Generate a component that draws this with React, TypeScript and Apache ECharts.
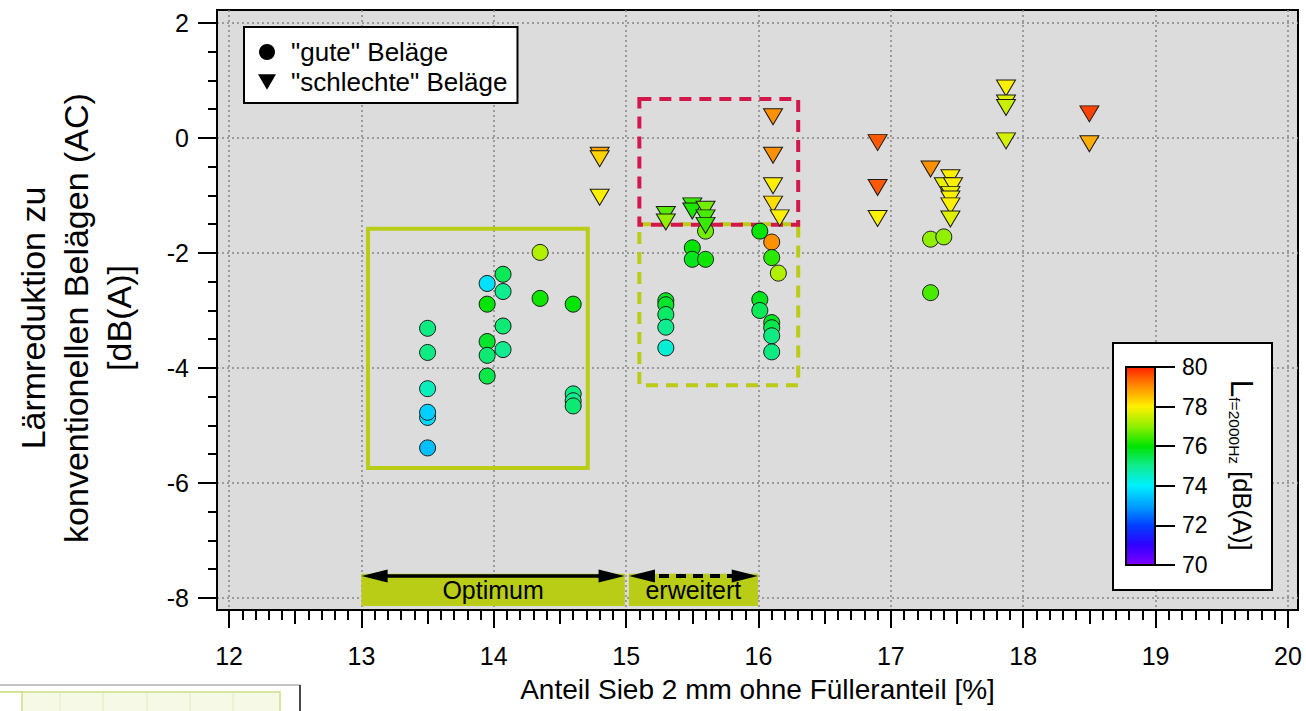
import React, { useEffect, useRef } from 'react';
import * as echarts from 'echarts';

// ---- data ----
const GOOD_X = [13.5, 13.5, 13.5, 13.5, 13.5, 13.5, 13.95, 13.95, 13.95, 13.95, 13.95, 14.07, 14.07, 14.07, 14.07, 14.35, 14.35, 14.6, 14.6, 14.6, 14.6, 15.3, 15.3, 15.3, 15.3, 15.3, 15.5, 15.5, 15.6, 15.6, 16.01, 16.01, 16.01, 16.1, 16.1, 16.15, 16.1, 16.1, 16.1, 16.1, 17.3, 17.4, 17.3];
const GOOD_Y = [-3.31, -3.73, -4.36, -4.86, -4.77, -5.39, -2.53, -2.89, -3.54, -3.78, -4.14, -2.37, -2.67, -3.27, -3.68, -1.99, -2.79, -2.89, -4.45, -4.57, -4.66, -2.83, -2.9, -3.07, -3.29, -3.65, -1.91, -2.11, -2.11, -1.62, -1.62, -2.81, -3.0, -1.81, -2.08, -2.35, -3.21, -3.3, -3.44, -3.72, -1.76, -1.72, -2.69];
const GOOD_L = [75.1, 75.1, 74.6, 73.7, 73.6, 73.4, 73.8, 76.0, 75.7, 75.2, 75.5, 75.4, 75.0, 75.2, 75.0, 77.3, 76.1, 76.0, 75.1, 75.0, 75.2, 75.8, 75.7, 75.3, 75.0, 74.4, 76.0, 75.8, 76.1, 76.8, 76.0, 75.8, 75.4, 79.0, 76.3, 77.3, 75.8, 75.5, 75.1, 75.1, 77.0, 77.0, 76.5];

const BAD_X = [14.8, 14.8, 14.8, 15.3, 15.3, 15.5, 15.5, 15.6, 15.6, 15.6, 16.11, 16.11, 16.11, 16.11, 16.16, 16.9, 16.9, 16.9, 17.3, 17.45, 17.4, 17.47, 17.45, 17.45, 17.45, 17.45, 17.87, 17.87, 17.87, 17.87, 18.5, 18.5];
const BAD_Y = [-0.3, -0.36, -1.03, -1.33, -1.46, -1.18, -1.27, -1.24, -1.39, -1.52, 0.37, -0.3, -0.83, -1.15, -1.39, -0.08, -0.86, -1.4, -0.54, -0.69, -0.83, -0.83, -0.98, -1.06, -1.18, -1.41, 0.87, 0.61, 0.53, -0.05, 0.42, -0.1];
const BAD_L = [78.8, 78.3, 78.0, 76.6, 77.0, 76.4, 76.2, 76.8, 76.5, 76.4, 79.0, 79.0, 78.0, 78.2, 78.0, 79.5, 79.5, 78.0, 79.0, 78.0, 77.8, 78.0, 77.8, 78.0, 78.0, 77.7, 78.0, 77.7, 77.5, 77.6, 79.7, 78.7];

const SERIES_NAMES = ['"gute" Beläge', '"schlechte" Beläge'];
const X_TICKS = [12, 13, 14, 15, 16, 17, 18, 19, 20];
const Y_TICKS = [-8, -6, -4, -2, 0, 2];
const CB_MIN = 70;
const CB_MAX = 80;
const CB_COLORS = ['#8000ff', '#3000ff', '#0040ff', '#00a0ff', '#00f0ff', '#10ec90', '#00e400', '#90f000', '#fff000', '#ff9000', '#ff2000'];

const X_TITLE = 'Anteil Sieb 2 mm ohne Fülleranteil [%]';
const Y_TITLE = 'Lärmreduktion zu\nkonventionellen Belägen (AC)\n[dB(A)]';

// rectangles: [x1, y1, x2, y2]
const BOX_OPTIMUM = [13.05, -1.58, 14.71, -5.74];
const BOX_EXT_GOOD = [15.1, -1.5, 16.3, -4.3];
const BOX_EXT_BAD = [15.1, 0.68, 16.3, -1.51];
const BAND_OPT = [13.0, -7.58, 14.99, -8.14];
const BAND_EXT = [15.02, -7.58, 15.996, -8.14];
const ARROW_Y = -7.617;

const X_MIN = 11.909;
const X_MAX = 20.076;
const Y_MIN = -8.209;
const Y_MAX = 2.226;

const FONT = 'Liberation Sans, Arial, Helvetica, sans-serif';
const GREEN = '#b9cc16';
const RED = '#d4174a';
const ARROW_HEAD = 'path://M5,0L10,20L0,20Z';

const r1 = (v: number) => Math.round(v * 10) / 10;
const X_HALF: number[] = [];
const X_TENTH: number[] = [];
for (let i = 0; i < X_TICKS.length - 1; i++) {
  for (let k = 1; k < 10; k++) {
    const v = r1(X_TICKS[i] + k / 10);
    if (k === 5) X_HALF.push(v);
    else X_TENTH.push(v);
  }
}
const Y_MINOR: number[] = [];
for (let i = 0; i < Y_TICKS.length - 1; i++) {
  for (let k = 1; k < 4; k++) Y_MINOR.push(Y_TICKS[i] + k * 0.5);
}

export default function App() {
  const ref = useRef<HTMLDivElement>(null);

  useEffect(() => {
    document.body.style.margin = '0';
    const chart = echarts.init(ref.current!, undefined, { renderer: 'svg' });

    const tickLine = { color: '#000', width: 2 };
    const xBase = {
      type: 'value', gridIndex: 0, min: X_MIN, max: X_MAX, position: 'bottom',
      axisLine: { show: false, onZero: false }, splitLine: { show: false }, axisLabel: { show: false },
      minorTick: { show: false },
    };
    const yBase = {
      type: 'value', gridIndex: 0, min: Y_MIN, max: Y_MAX, position: 'left',
      axisLine: { show: false, onZero: false }, splitLine: { show: false }, axisLabel: { show: false },
      minorTick: { show: false },
    };
    const gridLine = { show: true, lineStyle: { color: '#858585', width: 1.5, type: [2, 3] } };

    const gradStops = CB_COLORS.map((c, i) => ({ offset: 1 - i / (CB_COLORS.length - 1), color: c })).reverse();

    const rectArea = (b: number[], color: string, dashed: boolean) => [
      {
        coord: [b[0], b[1]],
        itemStyle: { color: 'rgba(0,0,0,0)', borderColor: color, borderWidth: 4, borderType: dashed ? [12, 8] : 'solid' },
        label: { show: false },
      },
      { coord: [b[2], b[3]] },
    ];
    const bandArea = (b: number[], text: string) => [
      {
        coord: [b[0], b[1]],
        itemStyle: { color: GREEN, borderWidth: 0 },
        label: { show: true, position: 'inside', formatter: text, fontSize: 25, color: '#000', fontFamily: FONT },
      },
      { coord: [b[2], b[3]] },
    ];

    const option: any = {
      animation: false,
      backgroundColor: '#fff',
      textStyle: { fontFamily: FONT },
      grid: [
        {
          left: 217, right: 8, top: 10, bottom: 101, show: true,
          backgroundColor: '#dcdcdc', borderColor: '#000', borderWidth: 2,
        },
        {
          left: 1126, top: 367, width: 29, height: 198, show: true, z: 5,
          backgroundColor: new echarts.graphic.LinearGradient(0, 0, 0, 1, gradStops),
          borderColor: '#000', borderWidth: 2,
        },
      ],
      xAxis: [
        {
          ...xBase,
          axisLine: { show: true, onZero: false, lineStyle: tickLine },
          axisTick: { show: true, customValues: X_TICKS, length: 18, lineStyle: tickLine },
          axisLabel: { show: true, customValues: X_TICKS, fontSize: 25, color: '#000', margin: 33, fontFamily: FONT },
          splitLine: gridLine,
          name: X_TITLE, nameLocation: 'middle', nameGap: 65,
          nameTextStyle: { fontSize: 28, color: '#000', fontFamily: FONT },
        },
        { ...xBase, axisTick: { show: true, customValues: X_HALF, length: 14, lineStyle: tickLine } },
        { ...xBase, axisTick: { show: true, customValues: X_TENTH, length: 10, lineStyle: tickLine } },
        { type: 'value', gridIndex: 1, show: false, min: 0, max: 1 },
      ],
      yAxis: [
        {
          ...yBase,
          axisLine: { show: true, onZero: false, lineStyle: tickLine },
          axisTick: { show: true, customValues: Y_TICKS, length: 19, lineStyle: tickLine },
          axisLabel: { show: true, customValues: Y_TICKS, fontSize: 25, color: '#000', margin: 28, fontFamily: FONT },
          splitLine: gridLine,
        },
        { ...yBase, axisTick: { show: true, customValues: Y_MINOR, length: 9, lineStyle: tickLine } },
        {
          type: 'value', gridIndex: 1, min: CB_MIN, max: CB_MAX, interval: 2, position: 'right', z: 5,
          axisLine: { show: false, onZero: false },
          axisTick: { show: true, length: 20, lineStyle: tickLine },
          axisLabel: { show: true, fontSize: 23, color: '#000', margin: 27, fontFamily: FONT },
          splitLine: { show: false },
        },
      ],
      visualMap: {
        show: false, type: 'continuous', min: CB_MIN, max: CB_MAX, dimension: 2,
        seriesIndex: [0, 1], inRange: { color: CB_COLORS },
      },
      legend: {
        show: true, orient: 'vertical', left: 244, top: 27,
        backgroundColor: '#fff', borderColor: '#000', borderWidth: 2, borderRadius: 0,
        padding: [12, 10, 8, 14], itemGap: 4, itemWidth: 18, itemHeight: 16,
        selectedMode: false,
        textStyle: { fontSize: 26, color: '#000', fontFamily: FONT, padding: [0, 0, 0, 10] },
        data: [
          { name: SERIES_NAMES[0], icon: 'circle', itemStyle: { color: '#000', borderWidth: 0 } },
          { name: SERIES_NAMES[1], icon: 'path://M0,0L20,0L10,17Z', itemStyle: { color: '#000', borderWidth: 0 } },
        ],
      },
      series: [
        {
          name: SERIES_NAMES[0], type: 'scatter', xAxisIndex: 0, yAxisIndex: 0, z: 2,
          symbol: 'circle', symbolSize: 16,
          itemStyle: { color: '#000', borderColor: '#1a1a1a', borderWidth: 1, opacity: 1 },
          data: GOOD_X.map((x, i) => [x, GOOD_Y[i], GOOD_L[i]]),
        },
        {
          name: SERIES_NAMES[1], type: 'scatter', xAxisIndex: 0, yAxisIndex: 0, z: 3,
          symbol: 'triangle', symbolRotate: 180, symbolSize: [19, 16],
          itemStyle: { color: '#000', borderColor: '#1a1a1a', borderWidth: 1, opacity: 1 },
          data: BAD_X.map((x, i) => [x, BAD_Y[i], BAD_L[i]]),
        },
        {
          name: 'overlay', type: 'scatter', xAxisIndex: 0, yAxisIndex: 0, z: 5, silent: true, data: [],
          markArea: {
            silent: true,
            data: [
              rectArea(BOX_OPTIMUM, GREEN, false),
              rectArea(BOX_EXT_GOOD, GREEN, true),
              rectArea(BOX_EXT_BAD, RED, true),
              bandArea(BAND_OPT, 'Optimum'),
              bandArea(BAND_EXT, 'erweitert'),
            ],
          },
          markLine: {
            silent: true,
            symbol: [ARROW_HEAD, ARROW_HEAD],
            symbolSize: 26,
            symbolKeepAspect: true,
            label: { show: false },
            emphasis: { disabled: true },
            itemStyle: { color: '#000' },
            data: [
              [
                { coord: [BAND_OPT[0] + 0.1, ARROW_Y], lineStyle: { color: '#000', width: 3.5, type: 'solid' } },
                { coord: [BAND_OPT[2] - 0.1, ARROW_Y] },
              ],
              [
                { coord: [BAND_EXT[0] + 0.1, ARROW_Y], lineStyle: { color: '#000', width: 4, type: [10, 7] } },
                { coord: [BAND_EXT[2] - 0.1, ARROW_Y] },
              ],
            ],
          },
        },
      ],
      graphic: {
        elements: [
          {
            type: 'rect', z: 1, silent: true,
            shape: { x: 1113, y: 343, width: 159, height: 247 },
            style: { fill: '#fff', stroke: '#000', lineWidth: 2 },
          },
          {
            type: 'text', z: 6, silent: true, x: 1242, y: 465, rotation: -Math.PI / 2,
            style: {
              text: '{a|L}{b|f=2000Hz}{c| [dB(A)]}',
              align: 'center', verticalAlign: 'middle', textAlign: 'center', textVerticalAlign: 'middle',
              rich: {
                a: { fontSize: 32, fontFamily: FONT, fill: '#000', color: '#000' },
                b: { fontSize: 15.5, fontFamily: FONT, fill: '#000', color: '#000', verticalAlign: 'bottom' },
                c: { fontSize: 25.5, fontFamily: FONT, fill: '#000', color: '#000' },
              },
            },
          },
          {
            type: 'text', silent: true, x: 76, y: 318, rotation: Math.PI / 2,
            style: {
              text: Y_TITLE, fontSize: 34, fontFamily: FONT, fill: '#000', lineHeight: 43,
              align: 'center', verticalAlign: 'middle', textAlign: 'center', textVerticalAlign: 'middle',
            },
          },
          // fragment of a neighbouring figure at the lower-left corner
          {
            type: 'rect', silent: true, shape: { x: -2, y: 685, width: 302, height: 40 },
            style: { fill: '#fff', stroke: '#8a8a8a', lineWidth: 1 },
          },
          {
            type: 'line', silent: true, shape: { x1: 300, y1: 685, x2: 300, y2: 711 },
            style: { stroke: '#222', lineWidth: 1.5 },
          },
          {
            type: 'rect', silent: true, shape: { x: -2, y: 692, width: 282, height: 30 },
            style: { fill: '#f6f9e6', stroke: '#cddf86', lineWidth: 1.5 },
          },
          {
            type: 'rect', silent: true, shape: { x: -2, y: 692, width: 24, height: 30 },
            style: { fill: '#fff', stroke: '#cddf86', lineWidth: 1.5 },
          },
          ...[60, 103, 147, 190, 233].map((x) => ({
            type: 'line', silent: true, shape: { x1: x, y1: 693, x2: x, y2: 711 },
            style: { stroke: '#e2eabf', lineWidth: 1 },
          })),
        ],
      },
    };

    chart.setOption(option);
    return () => chart.dispose();
  }, []);

  return <div ref={ref} style={{ position: 'absolute', left: 0, top: 0, width: 1306, height: 711 }} />;
}
